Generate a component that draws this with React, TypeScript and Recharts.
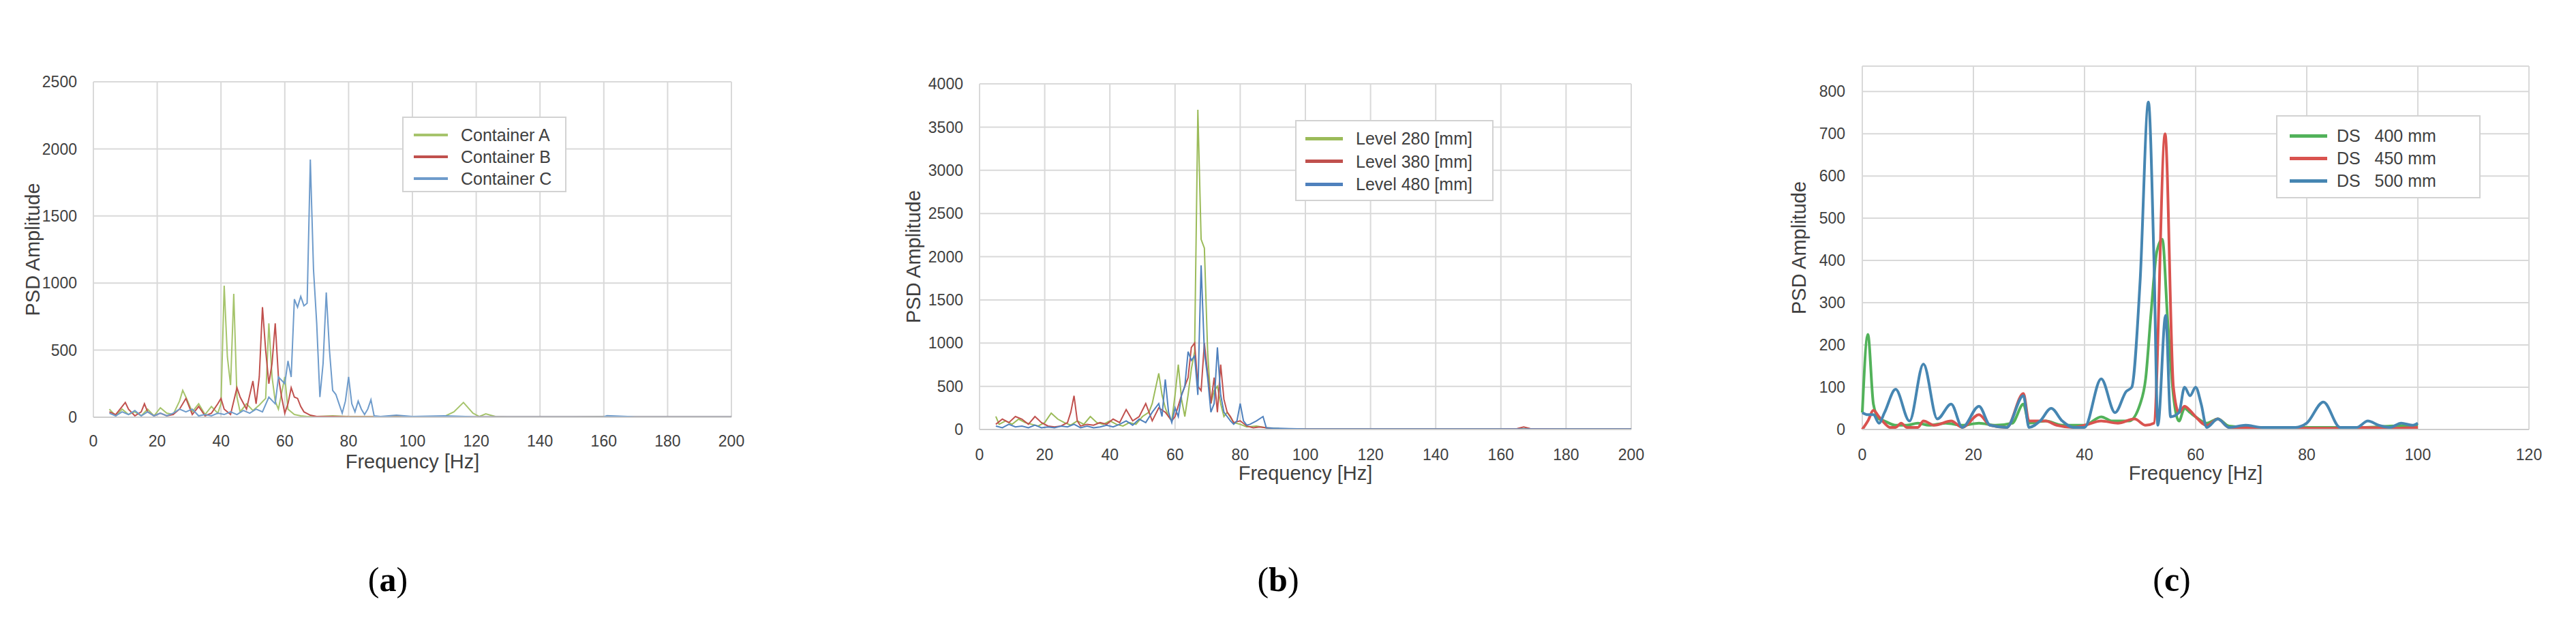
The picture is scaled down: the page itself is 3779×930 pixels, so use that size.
import React from 'react';
import { LineChart, Line, XAxis, YAxis, CartesianGrid, Legend, ReferenceLine } from 'recharts';

const FONT = '"Liberation Sans", Arial, sans-serif';
const TEXT = '#404040';
const GRID = '#d9d9d9';

// ---------- Panel (a) ----------
const aXTicks = [0, 20, 40, 60, 80, 100, 120, 140, 160, 180, 200];
const aYTicks = [0, 500, 1000, 1500, 2000, 2500];
const aNames = ['Container A', 'Container B', 'Container C'];

const aFreqA = [5, 7, 9, 11, 13, 15, 17, 19, 21, 23, 25, 27, 28, 29, 31, 33, 35, 37, 39, 40, 41, 42, 43, 44, 45, 46, 48, 50, 52, 54, 55, 56, 57, 58, 60, 61, 63, 65, 67, 70, 75, 80, 90, 100, 110, 113, 116, 119, 121, 123, 126, 130, 150, 160, 170, 200];
const aAmpA = [60, 10, 60, 20, 40, 10, 60, 10, 70, 30, 20, 120, 200, 150, 40, 100, 20, 80, 30, 100, 980, 450, 240, 920, 150, 40, 100, 50, 90, 140, 700, 300, 120, 60, 300, 60, 20, 10, 5, 5, 10, 5, 5, 5, 5, 40, 110, 30, 5, 25, 5, 3, 3, 5, 3, 3];

const aFreqB = [5, 7, 9, 10, 11, 13, 15, 16, 17, 19, 21, 23, 25, 27, 29, 31, 33, 35, 37, 39, 40, 41, 43, 45, 46, 48, 50, 51, 52, 53, 54, 55, 56, 57, 58, 59, 60, 61, 62, 63, 64, 65, 66, 68, 70, 75, 80, 90, 100, 120, 150, 200];
const aAmpB = [40, 20, 80, 110, 60, 10, 40, 100, 40, 10, 30, 10, 20, 60, 140, 20, 80, 10, 30, 100, 140, 60, 20, 220, 150, 60, 270, 100, 300, 820, 500, 250, 400, 700, 300, 150, 30, 100, 220, 150, 140, 80, 40, 15, 5, 5, 3, 3, 3, 3, 3, 3];

const aFreqC = [5, 7, 9, 11, 13, 15, 17, 19, 21, 23, 25, 27, 29, 31, 33, 35, 37, 39, 41, 43, 45, 47, 49, 51, 53, 55, 57, 58, 60, 61, 62, 63, 64, 65, 66, 67, 68, 69, 70, 71, 72, 73, 74, 75, 76, 77, 78, 79, 80, 81, 82, 83, 84, 85, 86, 87, 88, 90, 95, 100, 110, 120, 130, 160, 161, 170, 200];
const aAmpC = [30, 10, 40, 20, 50, 10, 40, 10, 30, 10, 30, 60, 40, 60, 10, 20, 10, 30, 20, 40, 20, 50, 30, 60, 40, 150, 100, 300, 250, 420, 300, 880, 820, 900, 830, 850, 1920, 1100, 700, 150, 400, 930, 500, 200, 170, 100, 30, 120, 300, 100, 40, 120, 60, 20, 60, 130, 10, 5, 15, 5, 10, 3, 3, 3, 12, 3, 3];

// ---------- Panel (b) ----------
const bXTicks = [0, 20, 40, 60, 80, 100, 120, 140, 160, 180, 200];
const bYTicks = [0, 500, 1000, 1500, 2000, 2500, 3000, 3500, 4000];
const bNames = ['Level 280 [mm]', 'Level 380 [mm]', 'Level 480 [mm]'];

const bFreq280 = [5, 6, 8, 10, 12, 14, 16, 18, 20, 22, 24, 26, 28, 30, 32, 34, 36, 38, 40, 42, 44, 46, 48, 50, 52, 53, 55, 56, 57, 58, 59, 60, 61, 62, 63, 64, 65, 66, 67, 68, 69, 70, 71, 72, 73, 74, 75, 76, 78, 80, 82, 85, 88, 92, 100, 120, 140, 160, 180, 200];
const bAmp280 = [150, 60, 100, 60, 120, 80, 60, 40, 80, 190, 120, 80, 50, 100, 60, 150, 80, 60, 100, 60, 40, 80, 60, 150, 200, 300, 650, 400, 250, 150, 100, 400, 750, 350, 150, 400, 700, 900, 3700, 2200, 2100, 900, 300, 450, 500, 300, 150, 200, 80, 60, 30, 40, 20, 10, 8, 8, 8, 8, 8, 8];

const bFreq380 = [5, 7, 9, 11, 13, 15, 17, 19, 21, 23, 25, 27, 28, 29, 30, 31, 33, 35, 37, 39, 41, 43, 45, 47, 49, 51, 52, 53, 55, 57, 59, 60, 62, 63, 64, 65, 66, 67, 68, 69, 70, 71, 72, 73, 74, 75, 76, 77, 78, 80, 82, 84, 86, 90, 100, 120, 140, 160, 165, 167, 169, 180, 200];
const bAmp380 = [60, 120, 80, 150, 120, 60, 150, 80, 40, 30, 40, 80, 200, 390, 100, 40, 60, 50, 80, 60, 120, 80, 230, 100, 150, 300, 200, 100, 250, 200, 100, 150, 400, 500, 600, 950, 1000, 500, 450, 1000, 650, 300, 600, 200, 750, 350, 200, 150, 80, 100, 40, 20, 30, 10, 5, 5, 5, 5, 10, 30, 10, 5, 5];

const bFreq480 = [5, 7, 9, 11, 13, 15, 17, 19, 21, 23, 25, 27, 29, 31, 33, 35, 37, 39, 41, 43, 45, 47, 49, 51, 53, 55, 56, 57, 58, 59, 60, 61, 62, 63, 64, 65, 66, 67, 68, 69, 70, 71, 72, 73, 74, 75, 76, 77, 78, 79, 80, 81, 82, 83, 85, 87, 88, 90, 95, 100, 200];
const bAmp480 = [40, 20, 60, 30, 40, 20, 50, 20, 30, 20, 40, 30, 60, 20, 40, 20, 30, 50, 30, 60, 100, 50, 120, 80, 200, 300, 150, 580, 200, 80, 250, 150, 400, 500, 900, 800, 850, 400, 1900, 900, 600, 200, 300, 950, 400, 200, 150, 100, 60, 100, 300, 100, 50, 60, 100, 150, 20, 15, 10, 5, 5];

// ---------- Panel (c) ----------
const cXTicks = [0, 20, 40, 60, 80, 100, 120];
const cYTicks = [0, 100, 200, 300, 400, 500, 600, 700, 800];
const cNames = ['DS   400 mm', 'DS   450 mm', 'DS   500 mm'];

const cFreq400 = [0, 1, 2, 3, 4, 6, 8, 10, 12, 15, 18, 21, 24, 27, 29, 30, 33, 36, 40, 43, 45, 48, 50, 51, 52, 53, 54, 55, 56, 57, 58, 59, 60, 62, 64, 66, 70, 75, 80, 85, 90, 95, 100];
const cAmp400 = [40, 225, 60, 25, 20, 10, 10, 15, 10, 15, 10, 15, 10, 15, 60, 15, 20, 10, 10, 30, 20, 20, 60, 120, 280, 420, 450, 250, 80, 20, 50, 40, 30, 15, 25, 8, 5, 5, 5, 5, 5, 8, 10];

const cFreq450 = [0, 1, 2, 3, 4, 5, 6, 7, 8, 10, 11, 13, 16, 18, 21, 23, 26, 29, 30, 33, 35, 38, 40, 43, 46, 49, 51, 52.5, 54.5, 56, 57, 58, 59, 60, 62, 64, 66, 70, 75, 80, 85, 90, 95, 100];
const cAmp450 = [0, 20, 45, 30, 15, 5, 5, 15, 5, 5, 20, 10, 20, 5, 35, 10, 5, 85, 20, 20, 10, 5, 10, 20, 15, 25, 10, 15, 700, 100, 40, 55, 45, 30, 10, 25, 5, 5, 3, 3, 3, 5, 3, 5];

const cFreq500 = [0, 1, 2, 3, 4, 6, 8.5, 11, 13.5, 16, 18, 21, 23, 26, 29, 30, 32, 34, 36, 38, 40, 43, 45.5, 47.5, 48.5, 50, 51.5, 52.5, 53.2, 54.6, 55.5, 57, 58, 59, 60, 61, 62, 64, 66, 69, 72, 78, 80, 83, 86, 89, 91, 93, 95, 97, 99, 100];
const cAmp500 = [40, 35, 35, 15, 40, 95, 20, 155, 25, 60, 5, 55, 10, 5, 80, 5, 20, 50, 20, 5, 5, 120, 40, 90, 100, 350, 775, 400, 10, 270, 30, 40, 100, 80, 100, 60, 5, 25, 5, 10, 5, 5, 15, 65, 5, 5, 20, 10, 5, 15, 10, 15];

const toPts = (f: number[], y: number[]) => f.map((v, i) => ({ f: v, y: y[i] }));

type Lg = { x: number; y: number; w: number; h: number; first: number; gap: number; lx: number; lw: number; tx: number; fs: number; lh: number };

const makeLegend = (lg: Lg) => (props: any) => {
  const payload = props.payload || [];
  return (
    <div style={{ width: lg.w, height: lg.h, border: '2px solid #d2d2d2', background: '#fff', boxSizing: 'border-box', position: 'relative', fontFamily: FONT }}>
      {payload.map((p: any, i: number) => (
        <div key={'l' + i} style={{ position: 'absolute', left: lg.lx, top: lg.first + i * lg.gap - lg.lh / 2, width: lg.lw, height: lg.lh, background: p.color }} />
      ))}
      {payload.map((p: any, i: number) => (
        <div key={'t' + i} style={{ position: 'absolute', left: lg.tx, top: lg.first + i * lg.gap, transform: 'translateY(-50%)', fontSize: lg.fs, color: TEXT, whiteSpace: 'pre', lineHeight: 1 }}>{p.value}</div>
      ))}
    </div>
  );
};

type Cfg = {
  left: number; width: number; height: number; margin: any; yWidth: number;
  xDomain: number[]; xTicks: number[]; yDomain: number[]; yTicks: number[];
  yTickMargin: number; xTickMargin: number; yTitleOffset: number; xTitleOffset: number;
  series: { name: string; color: string; data: any[] }[];
  sw: number; curve: any; lg: Lg; topBorder?: number;
};

function Panel({ c }: { c: Cfg }) {
  return (
    <div style={{ position: 'absolute', left: c.left, top: 0 }}>
      <LineChart width={c.width} height={c.height} margin={c.margin}>
        <CartesianGrid stroke={GRID} strokeWidth={2} />
        {c.topBorder ? <ReferenceLine y={c.topBorder} stroke={GRID} strokeWidth={2} /> : null}
        <XAxis
          type="number" dataKey="f" domain={c.xDomain} ticks={c.xTicks} interval={0}
          tickLine={false} tickSize={0} tickMargin={c.xTickMargin} height={100}
          axisLine={{ stroke: '#cdcdcd', strokeWidth: 2 }}
          tick={{ fill: TEXT, fontSize: 23, fontFamily: FONT }}
          label={{ value: 'Frequency [Hz]', position: 'insideBottom', offset: c.xTitleOffset, fill: TEXT, fontSize: 29, fontFamily: FONT }}
        />
        <YAxis
          type="number" domain={c.yDomain} ticks={c.yTicks} interval={0} width={c.yWidth}
          tickLine={false} tickSize={0} tickMargin={c.yTickMargin} axisLine={false}
          tick={{ fill: TEXT, fontSize: 23, fontFamily: FONT }}
          label={{ value: 'PSD Amplitude', angle: -90, position: 'insideLeft', offset: c.yTitleOffset, fill: TEXT, fontSize: 29, fontFamily: FONT, style: { textAnchor: 'middle' } }}
        />
        <Legend
          layout="vertical" align="center" verticalAlign="middle"
          wrapperStyle={{ left: c.lg.x, top: c.lg.y, width: c.lg.w, height: c.lg.h }}
          content={makeLegend(c.lg)}
        />
        {c.series.map((s) => (
          <Line key={s.name} data={s.data} dataKey="y" name={s.name} type={c.curve} stroke={s.color}
            strokeWidth={c.sw} dot={false} activeDot={false} isAnimationActive={false} />
        ))}
      </LineChart>
    </div>
  );
}

const panelA: Cfg = {
  left: 0, width: 1100, height: 760, margin: { top: 120, right: 27, bottom: 48, left: 0 }, yWidth: 137,
  xDomain: [0, 200], xTicks: aXTicks, yDomain: [0, 2500], yTicks: aYTicks,
  yTickMargin: 24, xTickMargin: 27, yTitleOffset: 48, xTitleOffset: 25,
  series: [
    { name: aNames[0], color: '#a6c46c', data: toPts(aFreqA, aAmpA) },
    { name: aNames[1], color: '#c0504d', data: toPts(aFreqB, aAmpB) },
    { name: aNames[2], color: '#6e9bcb', data: toPts(aFreqC, aAmpC) },
  ],
  sw: 2, curve: 'linear',
  lg: { x: 590, y: 171, w: 241, h: 111, first: 24.5, gap: 32, lx: 15, lw: 50, tx: 84, fs: 25, lh: 4 },
};

const panelB: Cfg = {
  left: 1250, width: 1170, height: 780, margin: { top: 123, right: 27, bottom: 50, left: 0 }, yWidth: 187,
  xDomain: [0, 200], xTicks: bXTicks, yDomain: [0, 4000], yTicks: bYTicks,
  yTickMargin: 24, xTickMargin: 29, yTitleOffset: 90, xTitleOffset: 26,
  series: [
    { name: bNames[0], color: '#9bbb59', data: toPts(bFreq280, bAmp280) },
    { name: bNames[1], color: '#c0504d', data: toPts(bFreq380, bAmp380) },
    { name: bNames[2], color: '#4f81bd', data: toPts(bFreq480, bAmp480) },
  ],
  sw: 2, curve: 'linear',
  lg: { x: 650, y: 176, w: 291, h: 119, first: 25, gap: 33.5, lx: 13, lw: 55, tx: 87, fs: 25, lh: 5 },
};

const panelC: Cfg = {
  left: 2550, width: 1190, height: 780, margin: { top: 97, right: 30, bottom: 50, left: 0 }, yWidth: 182,
  xDomain: [0, 120], xTicks: cXTicks, yDomain: [0, 860], yTicks: cYTicks,
  yTickMargin: 25, xTickMargin: 29, yTitleOffset: 89, xTitleOffset: 26,
  series: [
    { name: cNames[0], color: '#52b25a', data: toPts(cFreq400, cAmp400) },
    { name: cNames[1], color: '#d9534f', data: toPts(cFreq450, cAmp450) },
    { name: cNames[2], color: '#4686b2', data: toPts(cFreq500, cAmp500) },
  ],
  sw: 4, curve: 'monotone', topBorder: 860,
  lg: { x: 789, y: 169, w: 300, h: 122, first: 28, gap: 33, lx: 18, lw: 55, tx: 87, fs: 25, lh: 5 },
};

const captions = [
  { letter: 'a', x: 569 },
  { letter: 'b', x: 1875 },
  { letter: 'c', x: 3186 },
];

export default function App() {
  return (
    <div style={{ position: 'absolute', left: 0, top: 0, width: 3779, height: 930, background: '#fff', overflow: 'hidden' }}>
      <Panel c={panelA} />
      <Panel c={panelB} />
      <Panel c={panelC} />
      {captions.map((cp) => (
        <div key={cp.letter} style={{ position: 'absolute', left: cp.x, top: 850, transform: 'translate(-50%, -50%)', fontFamily: '"Liberation Serif", "DejaVu Serif", serif', fontSize: 50, color: '#000', lineHeight: 1 }}>
          (<b>{cp.letter}</b>)
        </div>
      ))}
    </div>
  );
}
